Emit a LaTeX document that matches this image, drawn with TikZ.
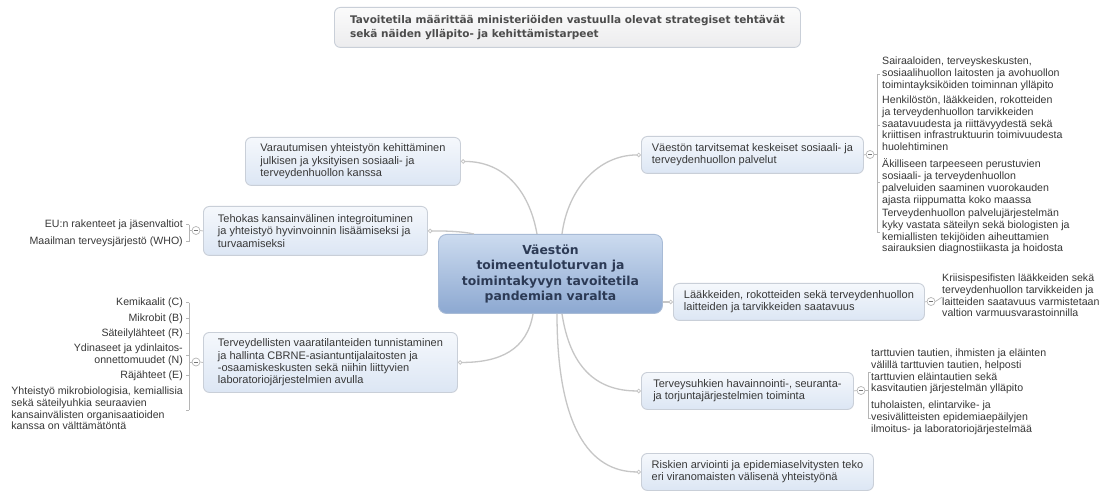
\documentclass[tikz,border=0pt]{standalone}
\usepackage{fontspec}
\setmainfont{Liberation Sans}
\newfontfamily\headfont{DejaVu Sans}
\usetikzlibrary{calc,arrows.meta}
\definecolor{boxline}{HTML}{C9CFD8}
\definecolor{boxtop}{HTML}{F5F8FC}
\definecolor{boxbot}{HTML}{DCE6F4}
\definecolor{headtop}{HTML}{FBFBFB}
\definecolor{headbot}{HTML}{ECECEE}
\definecolor{rootline}{HTML}{A8BBD6}
\definecolor{roottop}{HTML}{CCDBEF}
\definecolor{rootbot}{HTML}{8CA8D1}
\definecolor{roottext}{HTML}{2C3A55}
\definecolor{txt}{HTML}{383838}
\definecolor{linkc}{HTML}{C6C6C6}
\definecolor{brc}{HTML}{B5B5B5}

\begin{document}
\begin{tikzpicture}[x=1pt,y=-1pt,
  topic/.style={draw=boxline, line width=0.9pt, rounded corners=6pt,
    top color=boxtop, bottom color=boxbot, anchor=north west, align=left,
    inner sep=0pt, text=txt, font=\fontsize{11}{12.4}\selectfont},
  headbox/.style={topic, top color=headtop, bottom color=headbot,
    text=black!70, font=\headfont\bfseries\fontsize{10.5}{13.4}\selectfont},
  rootbox/.style={draw=rootline, line width=0.9pt, rounded corners=8pt,
    top color=roottop, bottom color=rootbot, anchor=north west, align=center,
    inner sep=0pt, text=roottext, font=\headfont\bfseries\fontsize{12.4}{15.6}\selectfont},
  leaf/.style={inner sep=0pt, text=txt, font=\fontsize{10.6}{11.8}\selectfont,
    execute at begin node=\strut},
  link/.style={draw=linkc, line width=1.3pt,
    -{Circle[open, fill=white, length=4.5pt, line width=0.8pt]}},
  br/.style={draw=brc, line width=0.7pt},
  coll/.style={circle, draw=brc, fill=white, line width=0.7pt, minimum size=8pt,
    inner sep=0pt, path picture={\draw[black!55, line width=0.7pt]
      ([xshift=-2pt]path picture bounding box.center) --
      ([xshift=2pt]path picture bounding box.center);}}
]
\useasboundingbox (0,0) rectangle (1111,494);
\fill[white] (0,0) rectangle (1111,494);

% heading box
\node[headbox, minimum width=466pt, minimum height=40pt] (head) at (334,7)
  {Tavoitetila määrittää ministeriöiden vastuulla olevat strategiset tehtävät\\
   sekä näiden ylläpito- ja kehittämistarpeet};

% central topic
\node[rootbox, minimum width=224pt, minimum height=79pt] (root) at (438,234)
  {Väestön\\toimeentuloturvan ja\\toimintakyvyn tavoitetila\\pandemian varalta};

% main topics, left
\node[topic, minimum width=215pt, minimum height=48pt] (l1) at (245,137)
  {Varautumisen yhteistyön kehittäminen\\julkisen ja yksityisen sosiaali- ja\\terveydenhuollon kanssa};
\node[topic, minimum width=224pt, minimum height=49pt] (l2) at (203,206)
  {Tehokas kansainvälinen integroituminen\\ja yhteistyö hyvinvoinnin lisäämiseksi ja\\turvaamiseksi};
\node[topic, minimum width=254pt, minimum height=60pt] (l3) at (203,332)
  {Terveydellisten vaaratilanteiden tunnistaminen\\ja hallinta CBRNE-asiantuntijalaitosten ja\\-osaamiskeskusten sekä niihin liittyvien\\laboratoriojärjestelmien avulla};

% main topics, right
\node[topic, minimum width=222pt, minimum height=37pt] (r1) at (641,136)
  {Väestön tarvitsemat keskeiset sosiaali- ja\\terveydenhuollon palvelut};
\node[topic, minimum width=251pt, minimum height=37pt] (r2) at (673,283)
  {Lääkkeiden, rokotteiden sekä terveydenhuollon\\laitteiden ja tarvikkeiden saatavuus};
\node[topic, minimum width=212pt, minimum height=37pt] (r3) at (641,372)
  {Terveysuhkien havainnointi-, seuranta-\\ja torjuntajärjestelmien toiminta};
\node[topic, minimum width=232pt, minimum height=37pt] (r4) at (641,453)
  {Riskien arviointi ja epidemiaselvitysten teko\\eri viranomaisten välisenä yhteistyönä};

% links from the central topic
\draw[link] ($(root.north west)+(99,0)$) .. controls +(-8,-45) and +(42,0) .. (l1.east);
\draw[link] ($(root.north west)+(36,0)$) .. controls +(-14,-3) and +(16,0) .. (l2.east);
\draw[link] ($(root.south west)+(95,0)$) .. controls +(-6,36) and +(42,0) .. (l3.east);
\draw[link] ($(root.north west)+(124,0)$) .. controls +(6,-46) and +(-42,0) .. (r1.west);
\draw[link] (root.east |- r2.west) -- (r2.west);
\draw[link] ($(root.south west)+(124,0)$) .. controls +(8,52) and +(-46,0) .. (r3.west);
\draw[link] ($(root.south west)+(119,0)$) .. controls +(0,112) and +(-52,0) .. (r4.west);

% collapse buttons
\node[coll] (kl2) at (196,230.5) {};
\node[coll] (kl3) at (196,362) {};
\node[coll] (kr1) at (870,154.5) {};
\node[coll] (kr2) at (931,301.5) {};
\node[coll] (kr3) at (861,390.5) {};
\draw[br] (l2.west) -- (kl2.east);
\draw[br] (l3.west) -- (kl3.east);
\draw[br] (r1.east) -- (kr1.west);
\draw[br] (r2.east) -- (kr2.west);
\draw[br] (r3.east) -- (kr3.west);

% subtopics of r1
\node[leaf, align=left, anchor=north west] (a1) at (882,56.6)
  {Sairaaloiden, terveyskeskusten,\\sosiaalihuollon laitosten ja avohuollon\\toimintayksiköiden toiminnan ylläpito};
\node[leaf, align=left, anchor=north west] (a2) at (882,95.6)
  {Henkilöstön, lääkkeiden, rokotteiden\\ja terveydenhuollon tarvikkeiden\\saatavuudesta ja riittävyydestä sekä\\kriittisen infrastruktuurin toimivuudesta\\huolehtiminen};
\node[leaf, align=left, anchor=north west] (a3) at (882,158.6)
  {Äkilliseen tarpeeseen perustuvien\\sosiaali- ja terveydenhuollon\\palveluiden saaminen vuorokauden\\ajasta riippumatta koko maassa};
\node[leaf, align=left, anchor=north west] (a4) at (882,208.6)
  {Terveydenhuollon palvelujärjestelmän\\kyky vastata säteilyn sekä biologisten ja\\kemiallisten tekijöiden aiheuttamien\\sairauksien diagnostiikasta ja hoidosta};
\coordinate (b1) at (877,154.5);
\draw[br] (kr1.east) -- (b1);
\draw[br] (b1 |- a1.west) -- (b1 |- a4.west);
\foreach \n in {a1,a2,a3,a4} \draw[br] (b1 |- \n.west) -- ++(3,0);

% subtopic of r2
\node[leaf, align=left, anchor=north west] (c1) at (942,273.6)
  {Kriisispesifisten lääkkeiden sekä\\terveydenhuollon tarvikkeiden ja\\laitteiden saatavuus varmistetaan\\valtion varmuusvarastoinnilla};
\draw[br] (kr2.east) -- (c1.west);

% subtopics of r3
\node[leaf, align=left, anchor=north west] (d1) at (871,348.6)
  {tarttuvien tautien, ihmisten ja eläinten\\välillä tarttuvien tautien, helposti\\tarttuvien eläintautien sekä\\kasvitautien järjestelmän ylläpito};
\node[leaf, align=left, anchor=north west] (d2) at (871,400.6)
  {tuholaisten, elintarvike- ja\\vesivälitteisten epidemiaepäilyjen\\ilmoitus- ja laboratoriojärjestelmää};
\coordinate (b3) at (868,390.5);
\draw[br] (kr3.east) -- (b3);
\draw[br] (b3 |- d1.west) -- (b3 |- d2.west);
\foreach \n in {d1,d2} \draw[br] (b3 |- \n.west) -- (\n.west);

% subtopics of l2
\node[leaf, align=right, anchor=north east] (e1) at (183,218.6) {EU:n rakenteet ja jäsenvaltiot};
\node[leaf, align=right, anchor=north east] (e2) at (183,235.6) {Maailman terveysjärjestö (WHO)};
\coordinate (b2) at (189,230.5);
\draw[br] (kl2.west) -- (b2);
\draw[br] (b2 |- e1.east) -- (b2 |- e2.east);
\foreach \n in {e1,e2} \draw[br] (b2 |- \n.east) -- ++(-3,0);

% subtopics of l3
\node[leaf, align=right, anchor=north east] (f1) at (183,296.6) {Kemikaalit (C)};
\node[leaf, align=right, anchor=north east] (f2) at (183,312.6) {Mikrobit (B)};
\node[leaf, align=right, anchor=north east] (f3) at (183,327.6) {Säteilylähteet (R)};
\node[leaf, align=right, anchor=north east] (f4) at (183,343.6) {Ydinaseet ja ydinlaitos-\\onnettomuudet (N)};
\node[leaf, align=right, anchor=north east] (f5) at (183,369.6) {Räjähteet (E)};
\node[leaf, align=left, anchor=north east] (f6) at (183,386.6)
  {Yhteistyö mikrobiologisia, kemiallisia\\sekä säteilyuhkia seuraavien\\kansainvälisten organisaatioiden\\kanssa on välttämätöntä};
\coordinate (b4) at (189,362);
\draw[br] (kl3.west) -- (b4);
\draw[br] (b4 |- f1.east) -- (b4 |- f6.east);
\foreach \n in {f1,f2,f3,f4,f5,f6} \draw[br] (b4 |- \n.east) -- ++(-3,0);
\end{tikzpicture}
\end{document}
